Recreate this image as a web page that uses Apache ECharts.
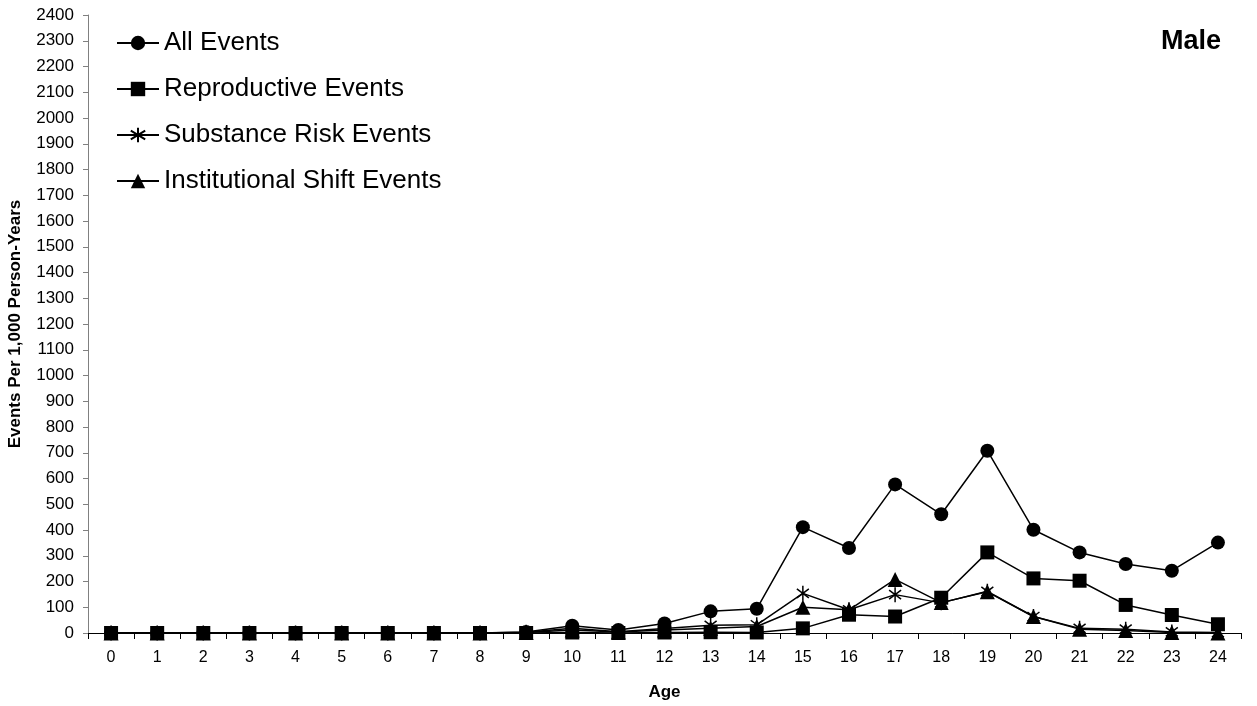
<!DOCTYPE html>
<html>
<head>
<meta charset="utf-8">
<script src="https://cdn.jsdelivr.net/npm/echarts@6/dist/echarts.min.js"></script>
<style>
html,body{margin:0;padding:0;background:#fff;}
#chart{width:1257px;height:706px;}
</style>
</head>
<body>
<div id="chart"></div>
<script>
const ages = ['0','1','2','3','4','5','6','7','8','9','10','11','12','13','14','15','16','17','18','19','20','21','22','23','24'];
const allEvents = [0,0,0,0,0,0,0,0,0,4,28,12,37,84,94,411,330,577,461,708,401,313,268,242,351];
const reproductiveEvents = [0,0,0,0,0,0,0,0,0,0,2,0,2,3,2,18,71,64,137,313,212,203,109,70,34];
const substanceRiskEvents = [0,0,0,0,0,0,0,0,0,3,18,5,17,30,32,154,90,149,117,162,64,18,15,4,2];
const institutionalShiftEvents = [0,0,0,0,0,0,0,0,0,2,12,4,12,18,25,100,90,208,118,160,64,15,10,2,0];
const seriesNames = ['All Events','Reproductive Events','Substance Risk Events','Institutional Shift Events'];
const yTicks = {min:0, max:2400, interval:100};

const FONT = '"Liberation Sans", Arial, Helvetica, sans-serif';
const starPath = 'path://M50,0L50,100M10,20L90,80M10,80L90,20';

function mk(name, data, symbol, size, extra) {
  return Object.assign({
    name: name,
    type: 'line',
    data: data,
    symbol: symbol,
    symbolSize: size,
    symbolKeepAspect: true,
    showAllSymbol: true,
    lineStyle: {color:'#000', width:1.5},
    itemStyle: {color:'#000'},
    emphasis: {disabled:true},
    animation: false
  }, extra || {});
}

const chart = echarts.init(document.getElementById('chart'));
chart.setOption({
  backgroundColor: '#fff',
  animation: false,
  textStyle: {fontFamily: FONT},
  grid: {left: 88, right: 16, top: 15, bottom: 73, containLabel: false, outerBoundsMode: 'none'},
  legend: {
    orient: 'vertical',
    left: 116,
    top: 30,
    padding: 0,
    itemWidth: 42,
    itemHeight: 18,
    itemGap: 20,
    data: seriesNames,
    textStyle: {fontFamily: FONT, fontSize: 26, color: '#000', lineHeight: 26}
  },
  graphic: [{
    type: 'text',
    right: 36,
    top: 28,
    style: {text: 'Male', font: 'bold 27px ' + FONT, fill: '#000'}
  }],
  xAxis: {
    type: 'category',
    data: ages,
    boundaryGap: true,
    name: 'Age',
    nameLocation: 'middle',
    nameGap: 51,
    nameTextStyle: {fontFamily: FONT, fontSize: 17, fontWeight: 'bold', color: '#000'},
    axisLine: {lineStyle: {color: '#000', width: 1}},
    axisTick: {show: true, alignWithLabel: false, length: 6, lineStyle: {color: '#000'}},
    axisLabel: {fontFamily: FONT, fontSize: 16, color: '#000', margin: 17, interval: 0},
    splitLine: {show: false}
  },
  yAxis: {
    type: 'value',
    min: yTicks.min,
    max: yTicks.max,
    interval: yTicks.interval,
    name: 'Events Per 1,000 Person-Years',
    nameLocation: 'middle',
    nameRotate: 90,
    nameGap: 64,
    nameTextStyle: {fontFamily: FONT, fontSize: 17, fontWeight: 'bold', color: '#000'},
    axisLine: {show: true, lineStyle: {color: '#808080', width: 1}},
    axisTick: {show: true, length: 5, lineStyle: {color: '#808080'}},
    axisLabel: {fontFamily: FONT, fontSize: 17, color: '#000', margin: 14, formatter: function (v) { return String(v); }},
    splitLine: {show: false}
  },
  series: [
    mk(seriesNames[0], allEvents, 'circle', 14),
    mk(seriesNames[1], reproductiveEvents, 'rect', 14),
    mk(seriesNames[2], substanceRiskEvents, starPath, 15, {itemStyle: {color:'#000', borderColor:'#000', borderWidth:1.5}}),
    mk(seriesNames[3], institutionalShiftEvents, 'triangle', 15)
  ]
});
</script>
</body>
</html>
